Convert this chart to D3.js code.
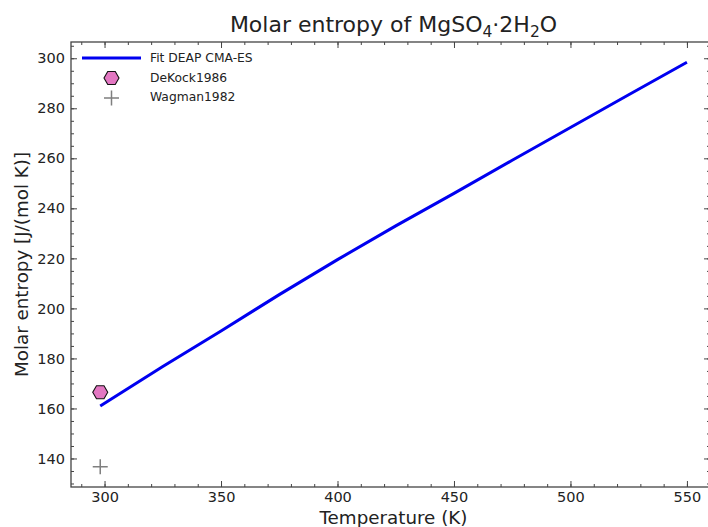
<!DOCTYPE html>
<html>
<head>
<meta charset="utf-8">
<script src="https://cdn.jsdelivr.net/npm/d3@7"></script>
<style>
  html, body { margin: 0; padding: 0; background: #fff; overflow: hidden; }
  svg { font-family: "DejaVu Sans", sans-serif; display: block; overflow: hidden; }
</style>
</head>
<body>
<div id="vis"></div>
<script>
// fitted curve (K, J/(mol K))
const fitT = [298.15, 325, 350, 375, 400, 425, 450, 475, 500, 525, 550]
const fitS = [161, 176.8, 191, 205.5, 219.5, 233, 246, 259.2, 272.3, 285.4, 298.4]
// measured points
const dekockT = [298.15]
const dekockS = [166.5]
const wagmanT = [298.15]
const wagmanS = [136.7]

const xTicks = [300, 350, 400, 450, 500, 550]
const yTicks = [140, 160, 180, 200, 220, 240, 260, 280, 300]

const W = 708, H = 527
// the right spine of the original sits just past the window edge
const margin = {top: 42, right: -2, bottom: 40, left: 71}
const width = W - margin.left - margin.right
const height = H - margin.top - margin.bottom
const axisColor = '#444'

const svg = d3.select('#vis')
    .append('svg')
    .attr('width', W)
    .attr('height', H)

const g = svg.append('g')
    .attr('transform', `translate(${margin.left},${margin.top})`)

const xScale = d3.scaleLinear().domain([285.6, 559.9]).range([0, width])
const yScale = d3.scaleLinear().domain([128.6, 306.5]).range([height, 0])

const xMinor = d3.range(290, 560, 10)
const yMinor = d3.range(130, 306, 5)

function tickAxis(axisFn, scale, major, minor, showLabels, pad) {
    return function(sel) {
        sel.call(axisFn(scale).tickValues(minor).tickSize(-3).tickFormat(''))
        sel.selectAll('.domain').remove()
        const m = sel.append('g')
        m.call(axisFn(scale).tickValues(major).tickSize(-6).tickPadding(pad)
            .tickFormat(showLabels ? d3.format('d') : ''))
        m.selectAll('.domain').remove()
        sel.selectAll('line').attr('stroke', axisColor).attr('stroke-width', 1)
        sel.selectAll('text')
            .attr('font-size', 14.5)
            .attr('font-family', 'DejaVu Sans')
            .attr('fill', '#222')
    }
}

g.append('g')
    .attr('transform', `translate(0,${height})`)
    .call(tickAxis(d3.axisBottom, xScale, xTicks, xMinor, true, 5))
g.append('g')
    .call(tickAxis(d3.axisTop, xScale, xTicks, xMinor, false, 5))
g.append('g')
    .call(tickAxis(d3.axisLeft, yScale, yTicks, yMinor, true, 6))
g.append('g')
    .attr('transform', `translate(${width},0)`)
    .call(tickAxis(d3.axisRight, yScale, yTicks, yMinor, false, 6))

// spines (the right one falls outside the window)
g.append('rect')
    .attr('width', width).attr('height', height)
    .attr('fill', 'none').attr('stroke', axisColor).attr('stroke-width', 1.3)

// fit line
const fitData = fitT.map((t, i) => ({t, s: fitS[i]}))
g.append('path')
    .datum(fitData)
    .attr('fill', 'none')
    .attr('stroke', '#0000f0')
    .attr('stroke-width', 3)
    .attr('d', d3.line().x(d => xScale(d.t)).y(d => yScale(d.s)))

const hexagon = r => d3.range(6).map(i => {
    const a = Math.PI / 3 * i
    return [r * Math.cos(a), r * Math.sin(a)]
})

function drawHex(sel, x, y) {
    sel.append('polygon')
        .attr('points', hexagon(7.5).map(p => p.join(',')).join(' '))
        .attr('transform', `translate(${x},${y})`)
        .attr('fill', '#e377c2')
        .attr('stroke', '#111')
        .attr('stroke-width', 1.1)
}

function drawPlus(sel, x, y) {
    sel.append('path')
        .attr('d', `M${x - 7.5},${y}H${x + 7.5}M${x},${y - 7.5}V${y + 7.5}`)
        .attr('stroke', '#7f7f7f')
        .attr('stroke-width', 1.5)
}

dekockT.forEach((t, i) => drawHex(g, xScale(t), yScale(dekockS[i])))
wagmanT.forEach((t, i) => drawPlus(g, xScale(t), yScale(wagmanS[i])))

// legend
const legend = svg.append('g').attr('font-size', 12.3).attr('fill', '#222')
legend.append('line')
    .attr('x1', 82).attr('x2', 141).attr('y1', 58).attr('y2', 58)
    .attr('stroke', '#0000f0').attr('stroke-width', 3)
legend.append('text').attr('x', 150).attr('y', 62).text('Fit DEAP CMA-ES')
drawHex(legend, 111.5, 78)
legend.append('text').attr('x', 150).attr('y', 81.5).text('DeKock1986')
drawPlus(legend, 111.5, 98)
legend.append('text').attr('x', 150).attr('y', 101).text('Wagman1982')

// title and axis labels
const title = svg.append('text')
    .attr('x', 393.5)
    .attr('y', 32)
    .attr('text-anchor', 'middle')
    .attr('font-size', 22)
    .attr('fill', '#222')
title.append('tspan').text('Molar entropy of MgSO')
title.append('tspan').attr('dy', 5).attr('font-size', 15.5).text('4')
title.append('tspan').attr('dy', -5).text('·2H')
title.append('tspan').attr('dy', 5).attr('font-size', 15.5).text('2')
title.append('tspan').attr('dy', -5).text('O')

svg.append('text')
    .attr('x', 393.5)
    .attr('y', 524)
    .attr('text-anchor', 'middle')
    .attr('font-size', 18.3)
    .attr('fill', '#222')
    .text('Temperature (K)')

svg.append('text')
    .attr('transform', `translate(28,${margin.top + height / 2}) rotate(-90)`)
    .attr('text-anchor', 'middle')
    .attr('font-size', 18.3)
    .attr('fill', '#222')
    .text('Molar entropy [J/(mol K)]')
</script>
</body>
</html>
